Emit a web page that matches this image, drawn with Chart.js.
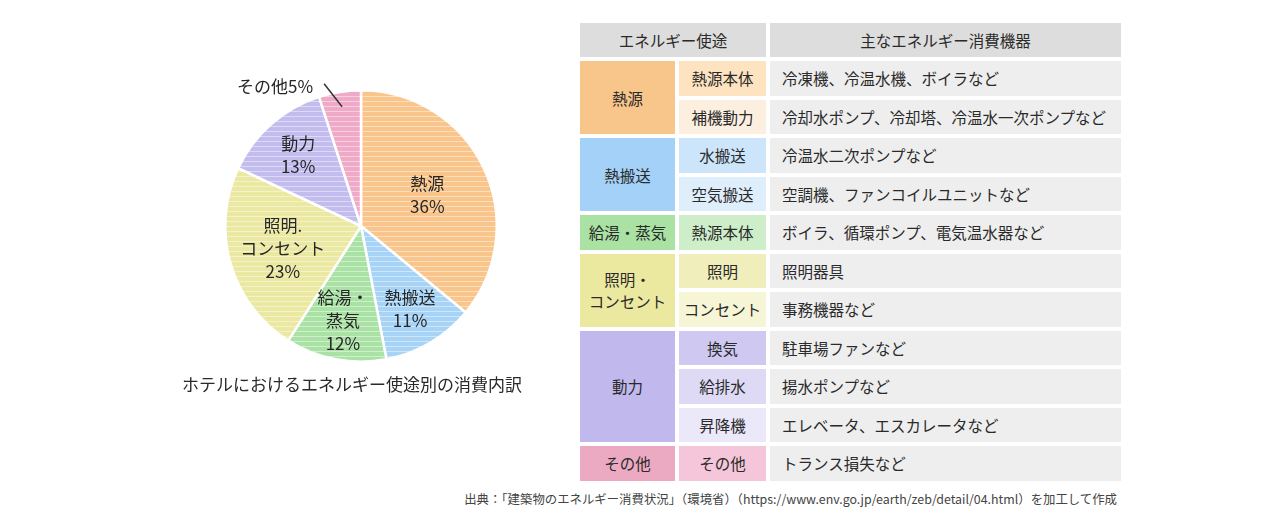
<!DOCTYPE html>
<html lang="ja">
<head>
<meta charset="utf-8">
<script src="https://cdn.jsdelivr.net/npm/chart.js@4/dist/chart.umd.min.js"></script>
<style>
  html, body { margin:0; padding:0; background:#fff; width:1280px; height:531px; overflow:hidden;
    font-family:"Noto Sans CJK JP","Noto Sans",sans-serif; color:#333; }
  #pieBox { position:absolute; left:161px; top:66px; width:400px; height:320px; }
  #caption { position:absolute; left:152px; width:400px; top:372px; text-align:center; font-size:17px; line-height:24px; color:#2a2a2a; }
  #tbl { position:absolute; left:580px; top:23px; width:541px; display:grid;
    grid-template-columns:95px 87px 1fr; grid-template-rows:34px; grid-auto-rows:34.5px; gap:4px; font-size:15.5px; color:#2a2a2a; }
  #tbl div { display:flex; align-items:center; justify-content:center; text-align:center; line-height:22px; }
  #tbl div.dev { justify-content:flex-start; padding-left:12px; background:#eeeeee; text-align:left; }
  #tbl div.hd { background:#dddddd; }
  #src { position:absolute; right:163px; top:490px; font-size:12.4px; color:#444; white-space:nowrap; }
</style>
</head>
<body>
<div id="pieBox"><canvas id="pie"></canvas></div>
<div id="caption"></div>
<div id="tbl"></div>
<div id="src"></div>
<script>
// ---- pie data ----
const categories = ['熱源', '熱搬送', '給湯・蒸気', '照明・コンセント', '動力', 'その他'];
const shares = [36, 11, 12, 23, 13, 5];
const pieLabelNames = [['熱源'], ['熱搬送'], ['給湯・', '蒸気'], ['照明.', 'コンセント'], ['動力'], ['その他']];
const caption = 'ホテルにおけるエネルギー使途別の消費内訳';

// ---- table data ----
const tableHeaders = ['エネルギー使途', '主なエネルギー消費機器'];
const usageGroups = ['熱源', '熱搬送', '給湯・蒸気', '照明・\nコンセント', '動力', 'その他'];
const groupRowSpans = [2, 2, 1, 2, 3, 1];
const subUsages = ['熱源本体', '補機動力', '水搬送', '空気搬送', '熱源本体', '照明', 'コンセント', '換気', '給排水', '昇降機', 'その他'];
const devices = ['冷凍機、冷温水機、ボイラなど', '冷却水ポンプ、冷却塔、冷温水一次ポンプなど', '冷温水二次ポンプなど',
  '空調機、ファンコイルユニットなど', 'ボイラ、循環ポンプ、電気温水器など', '照明器具', '事務機器など',
  '駐車場ファンなど', '揚水ポンプなど', 'エレベータ、エスカレータなど', 'トランス損失など'];
const sourceNote = '出典：「建築物のエネルギー消費状況」（環境省）（https://www.env.go.jp/earth/zeb/detail/04.html）を加工して作成';

// ---- styles ----
const sliceColors = ['#f9c58b', '#a6d3f6', '#aae2a5', '#ebe8a2', '#c3bcef', '#eeaac7'];
const groupColors = ['#f8c58a', '#a3d1f7', '#a9e2a3', '#ebe8a0', '#c1b9ee', '#eba9c2'];
const subColors = ['#fde3c0', '#fcefe0', '#cce5fb', '#dfeefb', '#cdeec9', '#f0eebb', '#f6f5d6', '#cfc9f2', '#dedaf6', '#ebe8fa', '#f5c6da'];
const labelRadius = [0.54, 0.71, 0.71, 0.60, 0.70];

function stripe(color) {
  const c = document.createElement('canvas');
  c.width = 8; c.height = 5;
  const g = c.getContext('2d');
  g.fillStyle = color; g.fillRect(0, 0, 8, 5);
  g.fillStyle = 'rgba(255,255,255,0.45)'; g.fillRect(0, 0, 8, 1);
  return g.createPattern(c, 'repeat');
}

document.getElementById('caption').textContent = caption;
document.getElementById('src').textContent = sourceNote;

// table
const tbl = document.getElementById('tbl');
function cell(text, cls, bg, col, row, span) {
  const d = document.createElement('div');
  d.className = cls || '';
  d.style.whiteSpace = 'pre';
  d.textContent = text;
  if (bg) d.style.background = bg;
  d.style.gridColumn = col;
  d.style.gridRow = span ? (row + ' / span ' + span) : String(row);
  tbl.appendChild(d);
}
cell(tableHeaders[0], 'hd', null, '1 / span 2', 1);
cell(tableHeaders[1], 'hd', null, '3', 1);
let r = 2;
usageGroups.forEach((g, i) => {
  cell(g, '', groupColors[i], '1', r, groupRowSpans[i]);
  r += groupRowSpans[i];
});
subUsages.forEach((s, i) => {
  cell(s, '', subColors[i], '2', i + 2);
  cell(devices[i], 'dev', null, '3', i + 2);
});

// pie labels plugin
const labelPlugin = {
  id: 'pieLabels',
  afterDatasetsDraw(chart) {
    const ctx = chart.ctx;
    const arcs = chart.getDatasetMeta(0).data;
    ctx.save();
    ctx.fillStyle = '#262626';
    ctx.font = '17px "Noto Sans CJK JP", sans-serif';
    ctx.textAlign = 'center';
    ctx.textBaseline = 'middle';
    arcs.forEach((arc, i) => {
      const p = arc.getProps(['x', 'y', 'startAngle', 'endAngle', 'outerRadius'], true);
      const mid = (p.startAngle + p.endAngle) / 2;
      const lines = pieLabelNames[i].concat([]);
      if (i < labelRadius.length) {
        lines.push(shares[i] + '%');
        const rr = p.outerRadius * labelRadius[i];
        const cx = p.x + Math.cos(mid) * rr, cy = p.y + Math.sin(mid) * rr;
        const lh = 23;
        lines.forEach((t, k) => ctx.fillText(t, cx, cy + (k - (lines.length - 1) / 2) * lh));
      } else {
        // outside label with leader line
        const sx = p.x + Math.cos(mid) * p.outerRadius * 0.89;
        const sy = p.y + Math.sin(mid) * p.outerRadius * 0.89;
        const ex = sx - 18, ey = sy - 23;
        ctx.strokeStyle = '#333'; ctx.lineWidth = 1.5;
        ctx.beginPath(); ctx.moveTo(sx, sy); ctx.lineTo(ex, ey); ctx.stroke();
        ctx.textAlign = 'right';
        ctx.fillText(lines[0] + shares[i] + '%', ex - 11, ey + 3);
      }
    });
    ctx.restore();
  }
};

new Chart(document.getElementById('pie'), {
  type: 'pie',
  data: {
    labels: categories,
    datasets: [{
      data: shares,
      backgroundColor: sliceColors.map(stripe),
      borderColor: '#ffffff',
      borderWidth: 2.5
    }]
  },
  options: {
    responsive: true,
    maintainAspectRatio: false,
    animation: false,
    layout: { padding: { left: 63, right: 63, top: 23, bottom: 23 } },
    plugins: { legend: { display: false }, tooltip: { enabled: false } }
  },
  plugins: [labelPlugin]
});
</script>
</body>
</html>
